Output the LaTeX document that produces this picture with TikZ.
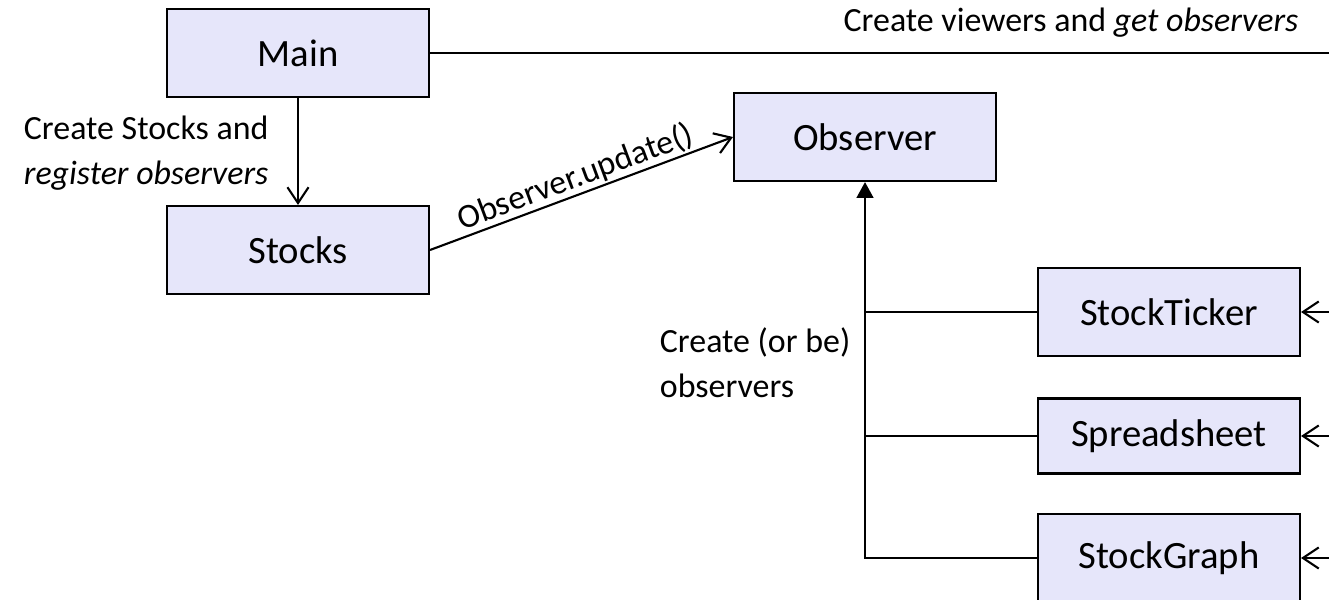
\documentclass[tikz,border=0pt]{standalone}
\usepackage{fontspec}
\setmainfont{Carlito}
\usetikzlibrary{arrows.meta}

\definecolor{boxfill}{RGB}{230,230,250}

\tikzset{
  classbox/.style={draw, fill=boxfill, line width=1.2pt, minimum width=5.24cm,
    minimum height=1.76cm, font=\fontsize{22}{26}\selectfont},
  note/.style={font=\fontsize{19.3}{25.5}\selectfont, align=left},
  call/.style={-{Straight Barb[length=9pt, width=12pt]}},
  inherit/.style={-{Triangle[length=9pt, width=9.5pt]}}
}

\begin{document}
\begin{tikzpicture}[x=0.02cm, y=-0.02cm, line width=1.2pt]
    \useasboundingbox (0,0) rectangle (1329,599);
    \coordinate (rim) at (1329,0);

    % classes
    \node[classbox] (main) at (298,53) {Main};
    \node[classbox] (stocks) at (298,250) {Stocks};
    \node[classbox] (observer) at (865,137) {Observer};
    \node[classbox] (ticker) at (1169,312) {StockTicker};
    \node[classbox, minimum height=1.5cm] (sheet) at (1169,436) {Spreadsheet};
    \node[classbox] (graph) at (1169,558) {StockGraph};

    % main creates things
    \draw[call] (main) -- (stocks);
    \node[note, anchor=west] (stocklbl) at (17,153) {Create Stocks and\\\textit{register observers}};
    \draw (main.east) -- (main.east -| rim);
    \node[note] (viewlbl) at (1071,23) {Create viewers and \textit{get observers}};

    % notification
    \draw[call] (stocks.east) -- node[note, sloped, above, inner sep=0.5pt] (updlbl) {Observer.update()} (observer.west);

    % viewers implement observer
    \draw[inherit] (graph.west) -| (observer.south);
    \draw (ticker.west) -- (ticker.west -| observer.south);
    \draw (sheet.west) -- (sheet.west -| observer.south);
    \node[note, anchor=west] (obslbl) at (653,363) {Create (or be)\\observers};

    % incoming from the right
    \draw[call] (ticker.east -| rim) -- (ticker.east);
    \draw[call] (sheet.east -| rim) -- (sheet.east);
    \draw[call] (graph.east -| rim) -- (graph.east);
\end{tikzpicture}
\end{document}
